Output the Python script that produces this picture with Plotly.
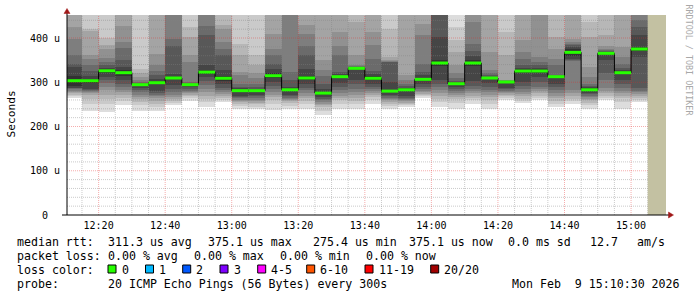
import plotly.graph_objects as go
import pandas as pd

# ---------------- data ----------------
DAY = "2026-02-09"
X_START = "12:10:30"
X_END = "15:10:30"
Y_MAX = 452

bar_end_times = ["12:15", "12:20", "12:25", "12:30", "12:35", "12:40", "12:45", "12:50",
                 "12:55", "13:00", "13:05", "13:10", "13:15", "13:20", "13:25", "13:30",
                 "13:35", "13:40", "13:45", "13:50", "13:55", "14:00", "14:05", "14:10",
                 "14:15", "14:20", "14:25", "14:30", "14:35", "14:40", "14:45", "14:50",
                 "14:55", "15:00", "15:05"]

median_us = [303.5, 303.5, 326.0, 321.6, 294.5, 299.0, 309.6, 294.5, 323.0, 309.0,
             281.0, 281.0, 314.8, 283.0, 309.6, 275.4, 312.6, 331.5, 309.0, 280.0,
             283.0, 306.6, 343.5, 296.7, 343.5, 309.6, 300.6, 325.4, 325.4, 312.6,
             367.6, 283.0, 365.4, 321.6, 375.1]

# 20 sorted ping rtts (us) per 5-minute step
pings_1215 = [264, 268, 272, 275, 277, 280, 284, 286, 288, 292, 315, 335, 342, 361, 398, 425, 452, 455, 460, 470]
pings_1220 = [236, 250, 262, 271, 276, 279, 281, 283, 285, 298, 308, 315, 325, 340, 352, 362, 415, 420, 452, 458]
pings_1225 = [232, 250, 262, 272, 282, 290, 298, 305, 312, 322, 330, 333, 338, 345, 355, 375, 385, 400, 452, 460]
pings_1230 = [249, 258, 265, 272, 278, 283, 290, 297, 304, 315, 328, 335, 350, 378, 392, 428, 452, 455, 460, 470]
pings_1235 = [234, 248, 256, 262, 266, 272, 278, 283, 288, 293, 296, 297, 298, 300, 305, 312, 320, 331, 455, 470]
pings_1240 = [234, 245, 252, 258, 264, 268, 272, 276, 280, 295, 303, 308, 316, 325, 340, 365, 452, 455, 460, 470]
pings_1245 = [249, 254, 258, 262, 266, 272, 278, 285, 294, 307, 312, 318, 383, 398, 452, 455, 460, 465, 470, 480]
pings_1250 = [258, 264, 268, 272, 275, 278, 281, 285, 289, 293.5, 295.5, 296, 297, 301, 345, 361, 402, 425, 455, 465]
pings_1255 = [245, 255, 263, 270, 278, 285, 293, 303, 312, 318, 328, 338, 406, 428, 452, 455, 460, 465, 470, 480]
pings_1300 = [255, 260, 264, 268, 273, 278, 282, 288, 295, 303, 315, 328, 362, 375, 390, 420, 430, 452, 458, 470]
pings_1305 = [240, 246, 251, 255, 258, 261, 264, 267, 270, 279, 283, 286, 290, 297, 316, 323, 361, 387, 452, 465]
pings_1310 = [240, 245, 250, 254, 258, 261, 264, 268, 272, 279, 283, 285, 290, 297, 310, 320, 338, 361, 452, 465]
pings_1315 = [238, 252, 260, 266, 272, 278, 285, 292, 300, 310, 320, 330, 342, 361, 376, 410, 452, 456, 462, 470]
pings_1320 = [240, 247, 253, 257, 260, 262, 265, 268, 272, 281, 285, 290, 304, 323, 452, 455, 460, 466, 472, 480]
pings_1325 = [240, 250, 258, 264, 270, 276, 282, 288, 296, 304, 315, 330, 361, 383, 410, 430, 452, 458, 465, 475]
pings_1330 = [226, 236, 243, 248, 252, 255, 259, 262, 266, 271.8, 279, 285, 297, 315, 327, 350, 452, 456, 462, 470]
pings_1335 = [240, 250, 259, 265, 270, 276, 283, 290, 298, 310, 315, 318, 323, 361, 383, 413, 452, 456, 462, 470]
pings_1340 = [240, 250, 258, 265, 272, 278, 285, 295, 305, 330, 333, 334, 335, 336, 338, 361, 436, 452, 458, 465]
pings_1345 = [250, 260, 266, 272, 276, 280, 285, 290, 296, 304, 314, 318, 325, 353, 385, 413, 452, 456, 462, 470]
pings_1350 = [240, 246, 251, 255, 259, 262, 265, 268, 272, 277, 283, 300, 345, 346, 348, 350, 357, 421, 452, 465]
pings_1355 = [244, 248, 251, 254, 257, 260, 262, 265, 268, 280, 286, 288, 291, 296, 305, 316, 452, 458, 466, 475]
pings_1400 = [264, 268, 271, 274, 277, 281, 285, 290, 295, 303, 310, 316, 323, 342, 406, 432, 452, 458, 466, 475]
pings_1405 = [245, 256, 263, 270, 276, 282, 290, 295, 305, 337, 350, 402, 452, 456, 460, 465, 470, 475, 480, 490]
pings_1410 = [240, 254, 262, 267, 272, 276, 280, 285, 290, 295, 298, 300, 303, 310, 320, 338, 368, 395, 425, 465]
pings_1415 = [252, 259, 265, 270, 275, 280, 285, 292, 302, 337, 350, 360, 370, 387, 436, 452, 456, 462, 470, 480]
pings_1420 = [240, 252, 260, 266, 272, 277, 283, 290, 298, 307, 312, 313, 316, 320, 327, 368, 452, 458, 466, 475]
pings_1425 = [261, 265, 269, 272, 275, 278, 281, 284, 287, 300, 301, 301.5, 302, 303, 304, 305, 361, 413, 452, 465]
pings_1430 = [254, 258, 263, 268, 274, 279, 285, 292, 300, 321, 330, 333, 340, 353, 368, 395, 452, 458, 466, 475]
pings_1435 = [259, 265, 270, 275, 280, 285, 290, 300, 312, 321, 330, 333, 338, 346, 357, 452, 456, 462, 470, 480]
pings_1440 = [244, 251, 258, 264, 270, 276, 283, 290, 296, 311, 314, 315, 316, 338, 353, 376, 402, 452, 460, 470]
pings_1445 = [252, 258, 263, 268, 275, 282, 349, 351, 353, 359, 376, 380, 384, 387, 391, 398, 452, 458, 466, 475]
pings_1450 = [240, 248, 254, 259, 263, 267, 270, 273, 276, 280, 286, 289, 292, 297, 313, 334, 402, 436, 452, 465]
pings_1455 = [261, 265, 270, 276, 281, 287, 304, 320, 350, 362, 368, 369, 370, 372, 375, 383, 406, 452, 460, 470]
pings_1500 = [240, 256, 264, 270, 275, 281, 288, 296, 304, 318, 325, 328, 333, 342, 357, 380, 452, 458, 466, 475]
pings_1505 = [255, 260, 264, 268, 273, 277, 280, 287, 358, 370.2, 380, 406, 425, 440, 452, 456, 462, 470, 480, 490]

smoke = [pings_1215, pings_1220, pings_1225, pings_1230, pings_1235, pings_1240, pings_1245,
         pings_1250, pings_1255, pings_1300, pings_1305, pings_1310, pings_1315, pings_1320,
         pings_1325, pings_1330, pings_1335, pings_1340, pings_1345, pings_1350, pings_1355,
         pings_1400, pings_1405, pings_1410, pings_1415, pings_1420, pings_1425, pings_1430,
         pings_1435, pings_1440, pings_1445, pings_1450, pings_1455, pings_1500, pings_1505]

y_tick_vals = [0, 100, 200, 300, 400]
y_tick_text = ["0  ", "100 u", "200 u", "300 u", "400 u"]

stats_rtt = ["median rtt:", "311.3 us avg", "375.1 us max", "275.4 us min",
             "375.1 us now", "0.0 ms sd", "12.7", "am/s"]
stats_loss = ["packet loss:", "0.00 % avg", "0.00 % max", "0.00 % min", "0.00 % now"]
loss_labels = ["0", "1", "2", "3", "4-5", "6-10", "11-19", "20/20"]
probe_text = ["probe:", "20 ICMP Echo Pings (56 Bytes) every 300s"]
stamp_text = "Mon Feb  9 15:10:30 2026"

# ---------------- styles ----------------
FONT = "DejaVu Sans Mono"
GREYS = [221, 202, 183, 164, 145, 126, 107, 88, 69, 50]
LOSS_COLORS = ["#26ff00", "#00b8ff", "#0059ff", "#7e00ff", "#ff00ff", "#ff5500", "#ff0000", "#a10000"]
MEDIAN_COLOR = "#26ff00"
UNKNOWN_COLOR = "#c3c1a2"
MINOR_GRID = "rgba(128,128,128,0.42)"
MAJOR_GRID = "rgba(230,40,40,0.38)"
ARROW = "#a01818"

W, H = 697, 297
L, R, T, B = 67, 31, 15, 82
PW, PH = W - L - R, H - T - B


def px(x):
    return (x - L) / PW


def py(y):
    return (T + PH - y) / PH


def nb(s):
    return s.replace(" ", "\u00a0")


step = pd.Timedelta(minutes=5)
ends = pd.to_datetime([f"{DAY} {t}" for t in bar_end_times])
starts = ends - step
centers = ends - step / 2
x0 = pd.Timestamp(f"{DAY} {X_START}")
x1 = pd.Timestamp(f"{DAY} {X_END}")

fig = go.Figure()

# smoke: band k spans ping k .. ping 21-k
for k, g in enumerate(GREYS):
    lo = [b[k] for b in smoke]
    hi = [b[19 - k] for b in smoke]
    fig.add_trace(go.Bar(
        x=centers, y=[h - l for h, l in zip(hi, lo)], base=lo,
        width=step.total_seconds() * 1000,
        marker=dict(color=f"rgb({g},{g},{g})", line=dict(width=0)),
        showlegend=False, hoverinfo="skip"))

# grid above the smoke
grid_t = pd.date_range(x0.ceil("5min"), x1, freq="5min")
minor_vx, major_vx = [], []
for t in grid_t:
    target = major_vx if (t.minute % 20 == 0) else minor_vx
    target += [t, t, None]
minor_hy, major_hy = [], []
for v in range(20, Y_MAX, 20):
    target = major_hy if v % 100 == 0 else minor_hy
    target.append(v)


def vtrace(xs, color):
    ys = []
    for i in range(0, len(xs), 3):
        ys += [0, Y_MAX, None]
    return go.Scatter(x=xs, y=ys, mode="lines", line=dict(color=color, width=1, dash="1px,1px"),
                      showlegend=False, hoverinfo="skip")


def htrace(vals, color):
    xs, ys = [], []
    for v in vals:
        xs += [x0, x1, None]
        ys += [v, v, None]
    return go.Scatter(x=xs, y=ys, mode="lines", line=dict(color=color, width=1, dash="1px,1px"),
                      showlegend=False, hoverinfo="skip")


fig.add_trace(vtrace(minor_vx, MINOR_GRID))
fig.add_trace(htrace(minor_hy, MINOR_GRID))
fig.add_trace(vtrace(major_vx, MAJOR_GRID))
fig.add_trace(htrace(major_hy, MAJOR_GRID))

# unknown (no data yet) area
u0 = ends[-1]
fig.add_trace(go.Scatter(x=[u0, x1, x1, u0, u0], y=[0, 0, Y_MAX, Y_MAX, 0], mode="lines",
                         fill="toself", fillcolor=UNKNOWN_COLOR, line=dict(width=0),
                         showlegend=False, hoverinfo="skip"))

# median: thin black step + green segments
fig.add_trace(go.Scatter(x=list(starts) + [ends[-1]], y=median_us + [median_us[-1]],
                         mode="lines", line=dict(color="#000000", width=1, shape="hv"),
                         showlegend=False, hoverinfo="skip"))
gx, gy = [], []
for s, e, m in zip(starts, ends, median_us):
    gx += [s, e, None]
    gy += [m, m, None]
fig.add_trace(go.Scatter(x=gx, y=gy, mode="lines", line=dict(color=MEDIAN_COLOR, width=3),
                         showlegend=False, hoverinfo="skip"))

# ---------------- layout ----------------
shapes = [
    dict(type="line", xref="paper", yref="paper", x0=px(67), x1=px(67), y0=py(215), y1=py(11),
         line=dict(color="#000000", width=1)),
    dict(type="line", xref="paper", yref="paper", x0=px(62), x1=px(670), y0=py(215), y1=py(215),
         line=dict(color="#000000", width=1)),
    dict(type="path", xref="paper", yref="paper",
         path=f"M {px(64)},{py(13.5)} L {px(67)},{py(8.5)} L {px(70)},{py(13.5)} Z",
         fillcolor=ARROW, line=dict(color=ARROW, width=0.5)),
    dict(type="path", xref="paper", yref="paper",
         path=f"M {px(668.5)},{py(212)} L {px(673.5)},{py(215)} L {px(668.5)},{py(218)} Z",
         fillcolor=ARROW, line=dict(color=ARROW, width=0.5)),
]

annotations = []
LEG = 11.6
line_y = [241.5, 255.5, 269.5, 283.5]
rtt_x = [16, 107.3, 207.3, 312, 407.7, 507, 589.3, 635.5]
for txt, xx in zip(stats_rtt, rtt_x):
    annotations.append(dict(text=nb(txt), x=px(xx), y=py(line_y[0]), xref="paper", yref="paper",
                            xanchor="left", yanchor="middle", showarrow=False, borderpad=0,
                            font=dict(family=FONT, size=LEG, color="#000000")))
loss_x = [16, 107.3, 193.3, 279.3, 365]
for txt, xx in zip(stats_loss, loss_x):
    annotations.append(dict(text=nb(txt), x=px(xx), y=py(line_y[1]), xref="paper", yref="paper",
                            xanchor="left", yanchor="middle", showarrow=False, borderpad=0,
                            font=dict(family=FONT, size=LEG, color="#000000")))
annotations.append(dict(text=nb("loss color:"), x=px(16), y=py(line_y[2]), xref="paper", yref="paper",
                        xanchor="left", yanchor="middle", showarrow=False, borderpad=0,
                        font=dict(family=FONT, size=LEG, color="#000000")))
sq_x = [108, 145.5, 182.7, 220, 257.7, 306.7, 365, 430.7]
for lab, col, xx in zip(loss_labels, LOSS_COLORS, sq_x):
    shapes.append(dict(type="rect", xref="paper", yref="paper", x0=px(xx), x1=px(xx + 8),
                       y0=py(line_y[2] - 4.5), y1=py(line_y[2] + 3.5), fillcolor=col,
                       line=dict(color="#000000", width=1)))
    annotations.append(dict(text=nb(lab), x=px(xx + 12.5), y=py(line_y[2]), xref="paper", yref="paper",
                            xanchor="left", yanchor="middle", showarrow=False, borderpad=0,
                            font=dict(family=FONT, size=LEG, color="#000000")))
for txt, xx in zip(probe_text, [16, 107.3]):
    annotations.append(dict(text=nb(txt), x=px(xx), y=py(line_y[3]), xref="paper", yref="paper",
                            xanchor="left", yanchor="middle", showarrow=False, borderpad=0,
                            font=dict(family=FONT, size=LEG, color="#000000")))
annotations.append(dict(text=nb(stamp_text), x=px(681), y=py(line_y[3]), xref="paper", yref="paper",
                        xanchor="right", yanchor="middle", showarrow=False, borderpad=0,
                        font=dict(family=FONT, size=LEG, color="#000000")))
annotations.append(dict(text="Seconds", x=px(10.5), y=py(114), xref="paper", yref="paper",
                        xanchor="center", yanchor="middle", textangle=-90, showarrow=False,
                        borderpad=0, font=dict(family=FONT, size=11.2, color="#000000")))
annotations.append(dict(text=nb("RRDTOOL / TOBI OETIKER"), x=px(688.5), y=py(60), xref="paper",
                        yref="paper", xanchor="center", yanchor="middle", textangle=90,
                        showarrow=False, borderpad=0,
                        font=dict(family=FONT, size=8.4, color="#a8a8a8")))

fig.update_layout(
    width=W, height=H, margin=dict(l=L, r=R, t=T, b=B, pad=0),
    paper_bgcolor="#ffffff", plot_bgcolor="#ffffff",
    barmode="overlay", bargap=0, showlegend=False,
    font=dict(family=FONT, color="#000000"),
    shapes=shapes, annotations=annotations,
    xaxis=dict(type="date", range=[x0, x1], showgrid=False, zeroline=False, showline=False,
               tickmode="linear", tick0=f"{DAY} 12:00", dtick=20 * 60 * 1000, tickformat="%H:%M",
               ticks="", ticklabelstandoff=3, tickfont=dict(family=FONT, size=10, color="#000000")),
    yaxis=dict(range=[0, Y_MAX], showgrid=False, zeroline=False, showline=False,
               tickmode="array", tickvals=y_tick_vals, ticktext=[nb(t) for t in y_tick_text],
               ticks="", ticklabelstandoff=6, tickfont=dict(family=FONT, size=10, color="#000000")),
)

fig.write_html("out.html")
